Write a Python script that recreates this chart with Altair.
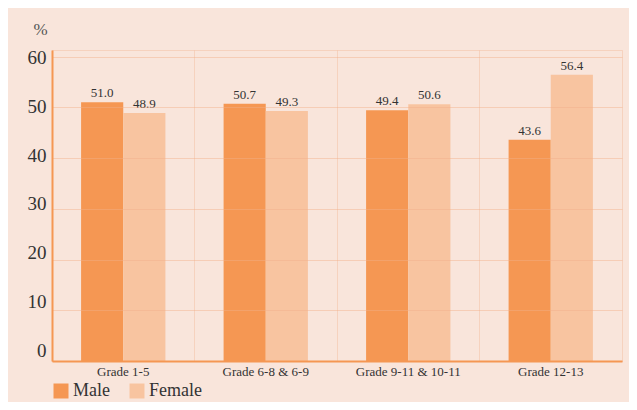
import altair as alt
import pandas as pd

categories = ["Grade 1-5", "Grade 6-8 & 6-9", "Grade 9-11 & 10-11", "Grade 12-13"]
male = [51.0, 50.7, 49.4, 43.6]
female = [48.9, 49.3, 50.6, 56.4]
series = ["Male", "Female"]
colors = ["#F59753", "#F8C4A0"]

rows = []
for i, c in enumerate(categories):
    rows.append({"grade": c, "sex": "Male", "value": male[i]})
    rows.append({"grade": c, "sex": "Female", "value": female[i]})
df = pd.DataFrame(rows)

FONT = "Liberation Serif"
GRID = "#F2B08A"

x = alt.X("grade:N", sort=categories, title=None,
          scale=alt.Scale(paddingInner=0, paddingOuter=0),
          axis=alt.Axis(labelFont=FONT, labelFontSize=13, labelColor="#333333",
                        labelPadding=4, labelAngle=0, ticks=False,
                        domainColor="#F59753", domainWidth=2,
                        grid=True, bandPosition=0, gridColor=GRID, gridOpacity=0.35,
                        zindex=1))
xo = alt.XOffset("sex:N", sort=series,
                 scale=alt.Scale(paddingInner=0, paddingOuter=0.69))

base = alt.Chart(df)

bars = base.mark_bar().encode(
    x=x,
    xOffset=xo,
    y=alt.Y("value:Q", title="%",
            scale=alt.Scale(domain=[0, 61.3], nice=False),
            axis=alt.Axis(values=[0, 10, 20, 30, 40, 50, 60], ticks=False,
                          labelFont=FONT, labelFontSize=19, labelColor="#333333",
                          labelPadding=6, labelBaseline="middle",
                          labelOffset=alt.ExprRef(expr="1 - (60 - datum.value) / 5"),
                          domainColor="#F59753", domainWidth=2,
                          gridColor=GRID, gridOpacity=0.45,
                          titleAngle=0, titleFont=FONT, titleFontSize=17,
                          titleFontWeight="normal", titleColor="#555555",
                          titleX=-12, titleY=-21, titleAlign="center",
                          titleBaseline="middle", zindex=1)),
    color=alt.Color("sex:N", sort=series,
                    scale=alt.Scale(domain=series, range=colors),
                    legend=alt.Legend(title=None, orient="none", direction="horizontal",
                                      legendX=0, legendY=332,
                                      symbolType="square", symbolSize=225,
                                      symbolStrokeWidth=0, symbolOpacity=1,
                                      labelFont=FONT, labelFontSize=18,
                                      labelColor="#333333", labelOffset=3,
                                      columnPadding=18)),
)

labels = base.mark_text(font=FONT, fontSize=13, color="#333333",
                        baseline="alphabetic", dy=-5).encode(
    x=alt.X("grade:N", sort=categories),
    xOffset=xo,
    y=alt.Y("value:Q"),
    text=alt.Text("value:Q", format=".1f"),
)

chart = alt.layer(bars, labels).properties(
    width=570, height=311,
    autosize=alt.AutoSizeParams(type="none"),
    padding={"left": 44, "top": 42, "right": 7, "bottom": 41},
    background="#F9E5DB",
).configure_view(stroke=GRID, strokeOpacity=0.35, strokeWidth=1)

chart.save("out.html", embed_options={"renderer": "svg", "actions": False})
